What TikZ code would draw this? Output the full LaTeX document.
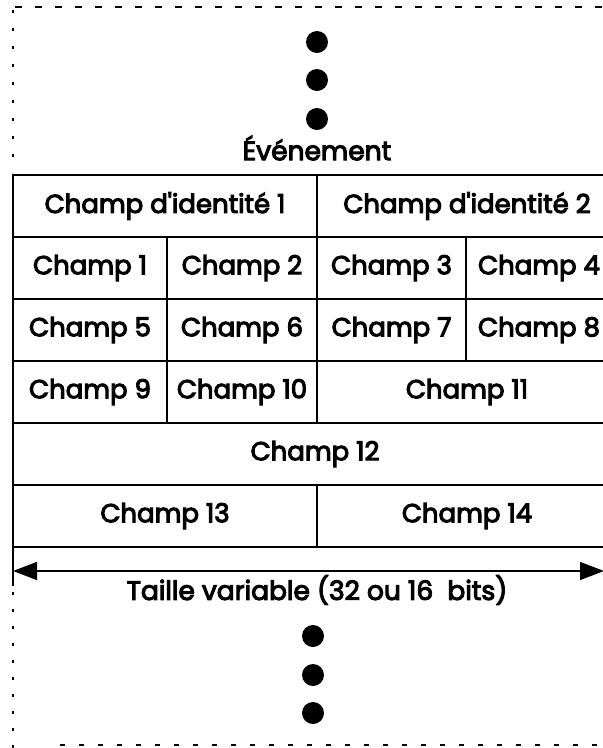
\documentclass[tikz,border=0pt]{standalone}
\usepackage{fontspec}
\setmainfont{Poppins}
\newfontfamily\heavyfont{Poppins}[FakeBold=4]
\usetikzlibrary{positioning,arrows.meta}

\tikzset{
  cellbox/.style={draw, line width=1.1pt, inner sep=0pt, outer sep=0pt,
    minimum height=62pt, anchor=north west, font=\heavyfont\fontsize{26}{30}\selectfont},
  dot/.style={circle, fill, inner sep=0pt, minimum size=22pt},
  lbl/.style={font=\heavyfont\fontsize{26.5}{30}\selectfont},
}

\begin{document}
\begin{tikzpicture}[x=1pt,y=-1pt]
\useasboundingbox (0,0) rectangle (603,748);
% frame round the record
\draw[line width=1.2pt, dash pattern=on 7pt off 13pt] (15,7) -- (603,7);
\draw[line width=1.6pt, dash pattern=on 3pt off 15pt] (13,10) -- (13,172);
\draw[line width=1.6pt, dash pattern=on 3pt off 14pt] (13,592) -- (13,748);
\draw[line width=1.2pt, dash pattern=on 5pt off 14pt] (60,745) -- (603,745);
% previous events
\node[dot] (d1) at (317,42) {};
\node[dot] (d2) at (317,80) {};
\node[dot] (d3) at (317,119) {};
\node[lbl] (evt) at (317,148) {Événement};
% fields
\node[cellbox, minimum width=304pt] (id1) at (13,175) {Champ d'identité 1};
\node[cellbox, minimum width=300pt] (id2) at (317,175) {Champ d'identité 2};
\node[cellbox, minimum width=154pt] (c1) at (13,237) {Champ 1};
\node[cellbox, minimum width=150pt] (c2) at (167,237) {Champ 2};
\node[cellbox, minimum width=149pt] (c3) at (317,237) {Champ 3};
\node[cellbox, minimum width=146pt] (c4) at (466,237) {Champ 4};
\node[cellbox, minimum width=154pt] (c5) at (13,299) {Champ 5};
\node[cellbox, minimum width=150pt] (c6) at (167,299) {Champ 6};
\node[cellbox, minimum width=149pt] (c7) at (317,299) {Champ 7};
\node[cellbox, minimum width=146pt] (c8) at (466,299) {Champ 8};
\node[cellbox, minimum width=154pt] (c9) at (13,361) {Champ 9};
\node[cellbox, minimum width=150pt] (c10) at (167,361) {Champ 10};
\node[cellbox, minimum width=300pt] (c11) at (317,361) {Champ 11};
\node[cellbox, minimum width=604pt] (c12) at (13,423) {Champ 12};
\node[cellbox, minimum width=304pt] (c13) at (13,485) {Champ 13};
\node[cellbox, minimum width=300pt] (c14) at (317,485) {Champ 14};
\draw[line width=1.8pt] (id1.north west) -- (13,586);
% size of a record
\coordinate (arrL) at (13,571);
\coordinate (arrR) at (604,571);
\draw[line width=1.4pt, {Triangle[length=24pt,width=18pt]}-{Triangle[length=24pt,width=18pt]}] (arrL) -- (arrR);
\node[lbl] (size) at (317,590) {Taille variable (32 ou 16~ bits)};
% next events
\node[dot] (d4) at (313,636) {};
\node[dot] (d5) at (313,675) {};
\node[dot] (d6) at (313,713) {};
\end{tikzpicture}
\end{document}
